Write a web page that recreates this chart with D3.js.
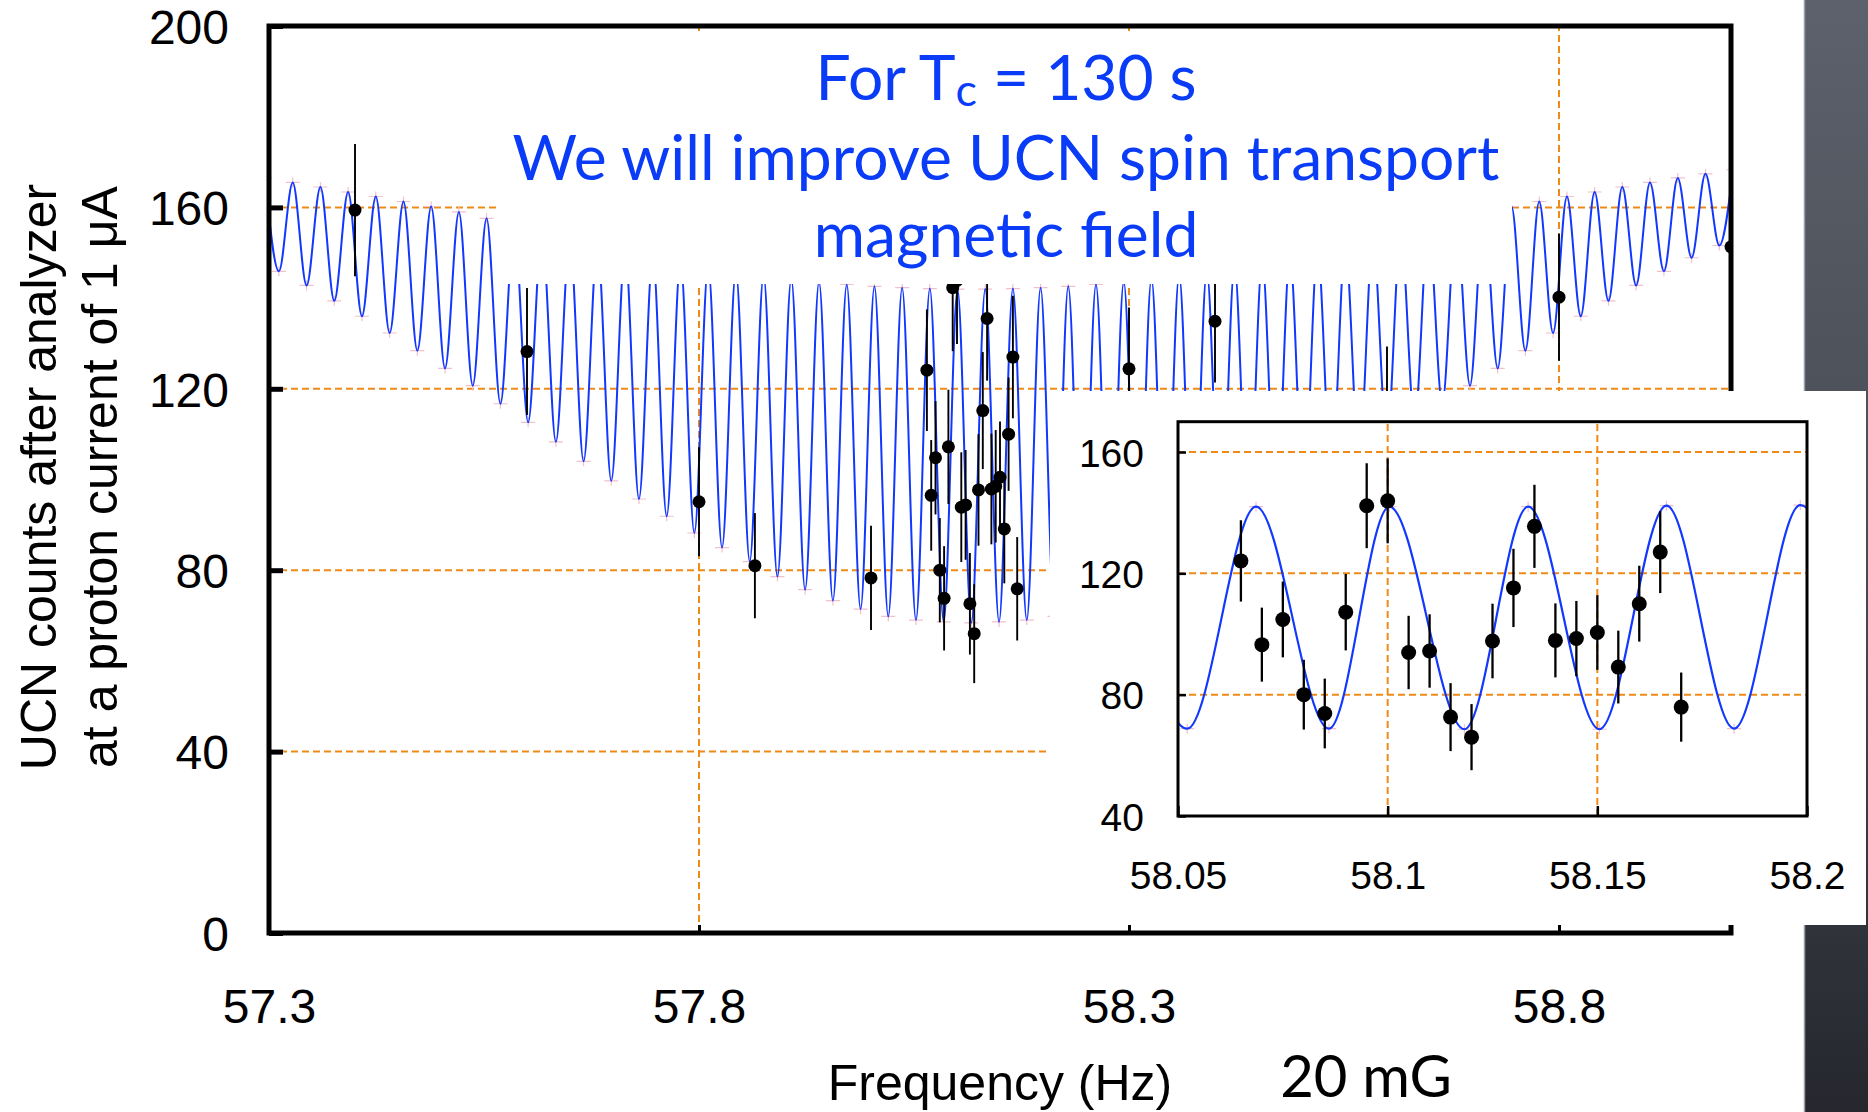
<!DOCTYPE html>
<html>
<head>
<meta charset="UTF-8">
<title>UCN counts vs frequency</title>
<style>
    body {
        margin: 0;
        background: #fff;
    }

    svg {
        display: block;
    }

    .tick text,
    .axtitle {
        font-family: 'Liberation Sans', Arial, Helvetica, sans-serif;
        fill: #000;
    }

    .note {
        font-family: 'Comic Sans MS', 'Lato', sans-serif;
    }
</style>
</head>
<body>
<script src="https://d3js.org/d3.v7.min.js"></script>
<script>
    /// data

    // fit curve, main plot: maxima and minima of the fringes (Hz, counts)
    var fitPeakHz = [57.2954, 57.3276, 57.3598, 57.3920, 57.4242, 57.4564, 57.4886, 57.5208, 57.5530,
        57.5852, 57.6174, 57.6497, 57.6819, 57.7141, 57.7463, 57.7785, 57.8107, 57.8429, 57.8751,
        57.9073, 57.9396, 57.9718, 58.0040, 58.0362, 58.0684, 58.1006, 58.1328, 58.1650, 58.1972,
        58.2294, 58.2616, 58.2939, 58.3261, 58.3583, 58.3905, 58.4227, 58.4549, 58.4871, 58.5193,
        58.5515, 58.5837, 58.6160, 58.6482, 58.6804, 58.7126, 58.7448, 58.7770, 58.8092, 58.8414,
        58.8736, 58.9058, 58.9381, 58.9703, 59.0025];
    var fitPeakCounts = [166.5, 165.5, 164.5, 163.4, 162.4, 161.3, 160.2, 159.0, 157.6,
        156.1, 154.6, 153.2, 151.9, 150.6, 149.3, 148.1, 147.0, 146.0, 145.1,
        144.3, 143.6, 143.0, 142.6, 142.3, 142.1, 142.0, 142.0, 142.1, 142.3,
        142.6, 143.0, 143.6, 144.3, 145.1, 146.0, 147.0, 148.1, 149.3, 150.6,
        151.9, 153.2, 154.6, 156.1, 157.6, 159.0, 160.2, 161.3, 162.4, 163.4,
        164.5, 165.5, 166.5, 167.4, 168.3];
    var fitDipHz = [57.3115, 57.3437, 57.3759, 57.4081, 57.4403, 57.4725, 57.5047, 57.5369, 57.5691,
        57.6013, 57.6336, 57.6658, 57.6980, 57.7302, 57.7624, 57.7946, 57.8268, 57.8590, 57.8912,
        57.9234, 57.9557, 57.9879, 58.0201, 58.0523, 58.0845, 58.1167, 58.1489, 58.1811, 58.2133,
        58.2455, 58.2778, 58.3100, 58.3422, 58.3744, 58.4066, 58.4388, 58.4710, 58.5032, 58.5354,
        58.5676, 58.5999, 58.6321, 58.6643, 58.6965, 58.7287, 58.7609, 58.7931, 58.8253, 58.8575,
        58.8897, 58.9220, 58.9542, 58.9864];
    var fitDipCounts = [145.9, 142.8, 139.4, 136.0, 132.3, 128.4, 124.5, 120.7, 116.7,
        112.6, 108.3, 104.0, 99.7, 95.7, 91.9, 88.2, 85.0, 81.9, 78.6,
        75.7, 73.3, 71.4, 69.8, 69.0, 68.6, 68.4, 68.6, 69.0, 69.8,
        71.4, 73.3, 75.7, 78.6, 81.9, 85.0, 88.2, 91.9, 95.7, 99.7,
        104.0, 108.3, 112.6, 116.7, 120.7, 124.5, 128.4, 132.3, 136.0, 139.4,
        142.8, 145.9, 148.9, 151.6];

    // fit curve, inset: maxima and minima
    var insetFitHz = [58.0360, 58.0522, 58.0686, 58.0860, 58.1004, 58.1183, 58.1335, 58.1505,
        58.1665, 58.1826, 58.1984, 58.2150];
    var insetFitCounts = [142.0, 68.8, 142.0, 68.8, 142.0, 68.6, 142.0, 68.6, 142.3, 68.8, 142.5, 68.8];

    // measured points with errors
    var dataHz = [57.40, 57.60, 57.80, 57.865, 58.00,
        58.065, 58.070, 58.075, 58.080, 58.085, 58.090, 58.095, 58.100, 58.105, 58.110, 58.115,
        58.120, 58.125, 58.130, 58.135, 58.140, 58.145, 58.150, 58.155, 58.160, 58.165, 58.170,
        58.30, 58.40, 58.60, 58.80, 59.00];
    var dataCounts = [159.4, 128.2, 95.1, 81.0, 78.3,
        124.1, 96.5, 104.8, 80.0, 73.8, 107.2, 142.3, 143.9, 93.9, 94.4, 72.6,
        66.0, 97.7, 115.2, 135.5, 97.9, 98.5, 100.5, 89.1, 110.0, 127.0, 75.9,
        124.4, 134.9, 116.0, 140.2, 151.3];
    var dataErr = [14.6, 14.0, 12.0, 11.6, 11.5,
        13.4, 12.2, 12.5, 11.5, 11.5, 12.6, 14.0, 14.0, 12.1, 12.1, 11.2,
        10.9, 12.3, 12.9, 13.7, 12.2, 12.4, 12.3, 12.0, 12.5, 13.5, 11.4,
        13.5, 13.5, 13.3, 14.0, 14.5];

    // ticks and grid
    var mainYTicks = [0, 40, 80, 120, 160, 200];
    var mainYLabels = ["0", "40", "80", "120", "160", "200"];
    var mainXTicks = [57.3, 57.8, 58.3, 58.8];
    var mainXLabels = ["57.3", "57.8", "58.3", "58.8"];
    var mainGridY = [40, 80, 120, 160];
    var mainGridX = [57.8, 58.3, 58.8];
    var insetYTicks = [40, 80, 120, 160];
    var insetYLabels = ["40", "80", "120", "160"];
    var insetXTicks = [58.05, 58.1, 58.15, 58.2];
    var insetXLabels = ["58.05", "58.1", "58.15", "58.2"];
    var insetGridY = [80, 120, 160];
    var insetGridX = [58.1, 58.15];

    var noteLines = ["We will improve UCN spin transport", "magnetic field"];
    var yTitle = ["UCN counts after analyzer", "at a proton current of 1 \u03bcA"];

    /// params
    var W = 1868, H = 1112;
    var blue = "#1238ff", noteBlue = "#0a3cf8", orange = "#f08a17", pink = "#f2c0c9";

    var svg = d3.select("body").append("svg")
        .attr("width", W)
        .attr("height", H);
    var defs = svg.append("defs");

    // dark slide edge on the right
    var grad = defs.append("linearGradient").attr("id", "edge")
        .attr("x1", 0).attr("y1", 0).attr("x2", 0).attr("y2", 1);
    grad.append("stop").attr("offset", "0%").attr("stop-color", "#5c616b");
    grad.append("stop").attr("offset", "50%").attr("stop-color", "#474b54");
    grad.append("stop").attr("offset", "100%").attr("stop-color", "#25272d");
    svg.append("rect").attr("x", 1804).attr("y", 0).attr("width", W - 1804).attr("height", H)
        .attr("fill", "url(#edge)");
    svg.append("line").attr("x1", 1804.5).attr("x2", 1804.5).attr("y1", 0).attr("y2", H)
        .attr("stroke", "#9a9da3").attr("stroke-width", 1.5);

    // helpers
    function toPts(hzA, cA, hzB, cB) {
        var pts = hzA.map(function(f, i) { return [f, cA[i]]; });
        if (hzB) pts = pts.concat(hzB.map(function(f, i) { return [f, cB[i]]; }));
        return pts.sort(function(a, b) { return a[0] - b[0]; });
    }

    function drawGrid(g, xs, ys, gx, gy) {
        var r = xs.range(), d = ys.range();
        g.selectAll("line.gy").data(gy).enter().append("line")
            .attr("x1", r[0]).attr("x2", r[1])
            .attr("y1", function(v) { return ys(v); }).attr("y2", function(v) { return ys(v); });
        g.selectAll("line.gx").data(gx).enter().append("line")
            .attr("y1", d[0]).attr("y2", d[1])
            .attr("x1", function(v) { return xs(v); }).attr("x2", function(v) { return xs(v); });
        g.selectAll("line").attr("stroke", orange).attr("stroke-width", 2)
            .attr("stroke-dasharray", "7,4");
    }

    function drawCrosses(g, pts, xs, ys) {
        g.selectAll("path").data(pts).enter().append("path")
            .attr("d", function(p) {
                var cx = xs(p[0]), cy = ys(p[1]);
                return "M" + (cx - 7) + "," + cy + "H" + (cx + 7) + "M" + cx + "," + (cy - 5) + "V" + (cy + 5);
            })
            .attr("stroke", pink).attr("stroke-width", 1.2).attr("fill", "none");
    }

    function drawPoints(g, xs, ys, r, bw) {
        var idx = d3.range(dataHz.length).filter(function(i) {
            var dm = xs.domain();
            return dataHz[i] >= dm[0] - 1e-9 && dataHz[i] <= dm[1] + 1e-9;
        });
        g.selectAll("line").data(idx).enter().append("line")
            .attr("x1", function(i) { return xs(dataHz[i]); })
            .attr("x2", function(i) { return xs(dataHz[i]); })
            .attr("y1", function(i) { return ys(dataCounts[i] + dataErr[i]); })
            .attr("y2", function(i) { return ys(dataCounts[i] - dataErr[i]); })
            .attr("stroke", "#000").attr("stroke-width", bw);
        g.selectAll("circle").data(idx).enter().append("circle")
            .attr("cx", function(i) { return xs(dataHz[i]); })
            .attr("cy", function(i) { return ys(dataCounts[i]); })
            .attr("r", r).attr("fill", "#000");
    }

    /// main plot
    var main = { left: 269, right: 1731, top: 26, bottom: 933 };
    var x = d3.scaleLinear().domain([57.3, 59.0]).range([main.left, main.right]);
    var y = d3.scaleLinear().domain([0, 200]).range([main.bottom, main.top]);

    defs.append("clipPath").attr("id", "mainClip").append("rect")
        .attr("x", main.left).attr("y", main.top)
        .attr("width", main.right - main.left).attr("height", main.bottom - main.top);

    drawGrid(svg.append("g"), x, y, mainGridX, mainGridY);

    var mainFit = toPts(fitPeakHz, fitPeakCounts, fitDipHz, fitDipCounts);
    var plotG = svg.append("g").attr("clip-path", "url(#mainClip)");
    drawCrosses(plotG.append("g"), mainFit, x, y);
    plotG.append("path")
        .datum(mainFit)
        .attr("fill", "none")
        .attr("stroke", blue)
        .attr("stroke-width", 2)
        .attr("d", d3.line()
            .x(function(d) { return x(d[0]); })
            .y(function(d) { return y(d[1]); })
            .curve(d3.curveMonotoneX));
    drawPoints(plotG.append("g"), x, y, 6.5, 1.9);

    // white panel behind the note
    svg.append("rect").attr("x", 500).attr("y", 32).attr("width", 1012).attr("height", 252)
        .attr("fill", "#fff");

    var noteG = svg.append("g").attr("class", "note").attr("fill", noteBlue).attr("text-anchor", "middle");
    var l2 = noteG.append("text").attr("x", 1006).attr("y", 180).attr("font-size", 54).text(noteLines[0]);
    // size the note font so the long line spans the same width as in the picture
    var fs = Math.max(44, Math.min(66, 54 * 987 / l2.node().getComputedTextLength()));
    l2.attr("font-size", fs);
    var l1 = noteG.append("text").attr("x", 1006).attr("y", 100).attr("font-size", fs);
    l1.append("tspan").text("For T");
    l1.append("tspan").attr("font-size", "0.72em").attr("dy", "0.14em").text("c");
    l1.append("tspan").attr("dy", "-0.1em").text(" = 130 s");
    noteG.append("text").attr("x", 1006).attr("y", 257).attr("font-size", fs).text(noteLines[1]);

    // frame
    svg.append("rect")
        .attr("x", main.left).attr("y", main.top)
        .attr("width", main.right - main.left).attr("height", main.bottom - main.top)
        .attr("fill", "none").attr("stroke", "#000").attr("stroke-width", 5);

    // axes
    svg.append("g").attr("transform", "translate(" + main.left + ",0)")
        .call(d3.axisLeft(y).tickValues(mainYTicks)
            .tickFormat(function(d, i) { return mainYLabels[i]; })
            .tickSize(-14).tickPadding(40))
        .call(function(g) { g.select(".domain").remove(); })
        .call(function(g) { g.selectAll(".tick line").attr("stroke", "#000").attr("stroke-width", 5); })
        .call(function(g) { g.selectAll(".tick text").attr("font-size", 48).attr("dy", "0.36em"); });

    svg.append("g").attr("transform", "translate(0," + main.bottom + ")")
        .call(d3.axisBottom(x).tickValues(mainXTicks)
            .tickFormat(function(d, i) { return mainXLabels[i]; })
            .tickSize(-8).tickPadding(56))
        .call(function(g) { g.select(".domain").remove(); })
        .call(function(g) { g.selectAll(".tick line").attr("stroke", "#000").attr("stroke-width", 3); })
        .call(function(g) { g.selectAll(".tick text").attr("font-size", 48); });

    // axis titles
    svg.selectAll("text.ytitle").data(yTitle).enter().append("text")
        .attr("class", "axtitle ytitle")
        .attr("transform", function(d, i) { return "translate(" + (56 + i * 61) + ",477) rotate(-90)"; })
        .attr("text-anchor", "middle")
        .attr("font-size", 50)
        .text(function(d) { return d; });

    svg.append("text").attr("class", "axtitle")
        .attr("x", 1000).attr("y", 1100).attr("text-anchor", "middle")
        .attr("font-size", 50).text("Frequency (Hz)");

    svg.append("text").attr("class", "note")
        .attr("x", 1366).attr("y", 1097).attr("text-anchor", "middle")
        .attr("font-size", fs * 0.93).attr("fill", "#000").text("20 mG");

    /// inset
    svg.append("rect").attr("x", 1050).attr("y", 391).attr("width", 816).attr("height", 534)
        .attr("fill", "#fff");

    var inset = { left: 1178, right: 1807, top: 421.7, bottom: 816 };
    var ix = d3.scaleLinear().domain([58.05, 58.2]).range([inset.left, inset.right]);
    var iy = d3.scaleLinear().domain([40, 170]).range([inset.bottom, inset.top]);

    defs.append("clipPath").attr("id", "insetClip").append("rect")
        .attr("x", inset.left).attr("y", inset.top)
        .attr("width", inset.right - inset.left).attr("height", inset.bottom - inset.top);

    drawGrid(svg.append("g"), ix, iy, insetGridX, insetGridY);

    var insetFit = toPts(insetFitHz, insetFitCounts);
    var insetG = svg.append("g").attr("clip-path", "url(#insetClip)");
    drawCrosses(insetG.append("g"), insetFit, ix, iy);
    insetG.append("path")
        .datum(insetFit)
        .attr("fill", "none")
        .attr("stroke", blue)
        .attr("stroke-width", 2.2)
        .attr("d", d3.line()
            .x(function(d) { return ix(d[0]); })
            .y(function(d) { return iy(d[1]); })
            .curve(d3.curveMonotoneX));
    drawPoints(svg.append("g"), ix, iy, 7.5, 2.3);

    svg.append("rect")
        .attr("x", inset.left).attr("y", inset.top)
        .attr("width", inset.right - inset.left).attr("height", inset.bottom - inset.top)
        .attr("fill", "none").attr("stroke", "#000").attr("stroke-width", 3);

    svg.append("g").attr("transform", "translate(" + inset.left + ",0)")
        .call(d3.axisLeft(iy).tickValues(insetYTicks)
            .tickFormat(function(d, i) { return insetYLabels[i]; })
            .tickSize(-8).tickPadding(34))
        .call(function(g) { g.select(".domain").remove(); })
        .call(function(g) { g.selectAll(".tick line").attr("stroke", "#000").attr("stroke-width", 2.5); })
        .call(function(g) { g.selectAll(".tick text").attr("font-size", 39).attr("dy", "0.36em"); });

    svg.append("g").attr("transform", "translate(0," + inset.bottom + ")")
        .call(d3.axisBottom(ix).tickValues(insetXTicks)
            .tickFormat(function(d, i) { return insetXLabels[i]; })
            .tickSize(-10).tickPadding(45))
        .call(function(g) { g.select(".domain").remove(); })
        .call(function(g) { g.selectAll(".tick line").attr("stroke", "#000").attr("stroke-width", 2.5); })
        .call(function(g) { g.selectAll(".tick text").attr("font-size", 39); });
</script>
</body>
</html>
